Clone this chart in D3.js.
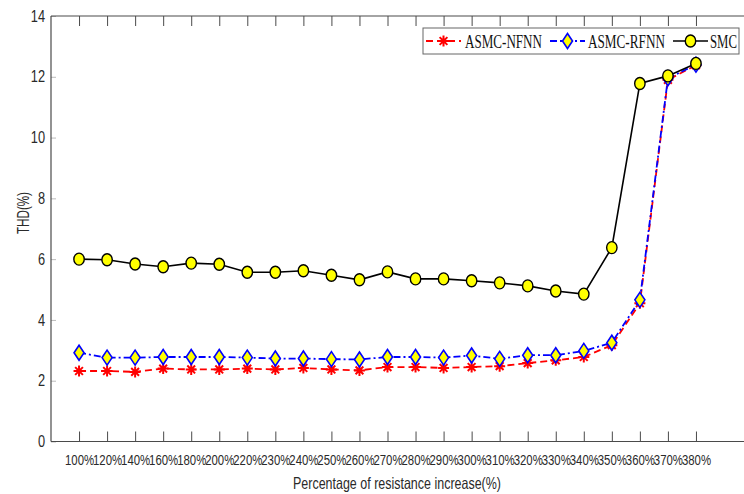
<!DOCTYPE html>
<html>
<head>
<meta charset="utf-8">
<script src="https://cdn.jsdelivr.net/npm/d3@7"></script>
<style>
  html, body { margin: 0; padding: 0; background: #fff; }
  svg { display: block; }
</style>
</head>
<body>
<svg id="chart" width="744" height="494"></svg>
<script>
// Resistance increase levels on the x axis
const categories = ['100%','120%','140%','160%','180%','200%','220%','230%','240%','250%','260%','270%',
  '280%','290%','300%','310%','320%','330%','340%','350%','360%','370%','380%'];

// THD (%) of each controller
const smcValues  = [6.00,5.98,5.84,5.75,5.87,5.83,5.57,5.57,5.62,5.47,5.32,5.58,
  5.35,5.35,5.29,5.22,5.12,4.95,4.85,6.38,11.78,12.03,12.44];
const rfnnValues = [2.92,2.76,2.76,2.78,2.78,2.78,2.76,2.73,2.73,2.71,2.70,2.78,
  2.78,2.76,2.83,2.72,2.84,2.84,2.98,3.25,4.66,11.95,12.40];
const nfnnValues = [2.32,2.32,2.29,2.40,2.37,2.37,2.40,2.37,2.42,2.37,2.34,2.45,
  2.45,2.42,2.45,2.48,2.58,2.67,2.78,3.17,4.55,11.90,12.38];

const yTicks = [0,2,4,6,8,10,12,14];

const svg = d3.select('#chart');
const plotLeft = 51, plotRight = 724, plotTop = 16, plotBottom = 441.5;

const x = d3.scalePoint().domain(categories).range([plotLeft, plotRight]).padding(1);
const y = d3.scaleLinear().domain([0, 14]).range([plotBottom, plotTop]);

const axisColor = '#4a4a4a';
const labelColor = '#2a2a2a';
const sans = 'Arial, "Liberation Sans", sans-serif';
const serif = '"Times New Roman", "Liberation Serif", serif';

// x axis (ticks inward, labels below)
const gx = svg.append('g').attr('transform', `translate(0,${plotBottom})`)
  .call(d3.axisBottom(x).tickSize(-10).tickPadding(12));
gx.select('.domain').remove();
gx.selectAll('.tick line').attr('stroke', axisColor).attr('stroke-width', 1);
gx.selectAll('.tick text')
  .attr('fill', labelColor).attr('font-family', sans).attr('font-size', 15.5)
  .attr('transform', 'scale(0.735,1)');

// top ticks
const gxt = svg.append('g').attr('transform', `translate(0,${plotTop})`)
  .call(d3.axisTop(x).tickSize(-10).tickFormat(''));
gxt.select('.domain').remove();
gxt.selectAll('.tick line').attr('stroke', axisColor).attr('stroke-width', 1);

// y axis
const gy = svg.append('g').attr('transform', `translate(${plotLeft},0)`)
  .call(d3.axisLeft(y).tickValues(yTicks).tickSize(-5).tickPadding(6));
gy.select('.domain').remove();
gy.selectAll('.tick line').attr('stroke', '#bbb').attr('stroke-width', 1);
gy.selectAll('.tick text')
  .attr('fill', labelColor).attr('font-family', sans).attr('font-size', 16)
  .attr('x', -6 / 0.8)
  .attr('transform', 'scale(0.8,1)');

// frame lines
svg.append('line').attr('x1', plotLeft).attr('x2', 744).attr('y1', plotBottom).attr('y2', plotBottom)
  .attr('stroke', axisColor).attr('stroke-width', 1.2);
svg.append('line').attr('x1', plotLeft).attr('x2', 744).attr('y1', plotTop).attr('y2', plotTop)
  .attr('stroke', axisColor).attr('stroke-width', 1.2);
svg.append('line').attr('x1', plotLeft).attr('x2', plotLeft).attr('y1', plotTop).attr('y2', plotBottom)
  .attr('stroke', axisColor).attr('stroke-width', 1.2);

// axis titles
svg.append('text').attr('x', 293).attr('y', 489)
  .attr('font-family', sans).attr('font-size', 16.5).attr('fill', labelColor)
  .attr('textLength', 208).attr('lengthAdjust', 'spacingAndGlyphs')
  .text('Percentage of resistance increase(%)');
svg.append('text')
  .attr('transform', 'translate(29,234) rotate(-90)')
  .attr('font-family', sans).attr('font-size', 17).attr('fill', labelColor)
  .attr('textLength', 42).attr('lengthAdjust', 'spacingAndGlyphs')
  .text('THD(%)');

// marker drawers
function star(g, cx, cy, s) {
  const p = d3.path();
  for (let k = 0; k < 4; k++) {
    const a = k * Math.PI / 4;
    const dx = Math.cos(a) * s, dy = Math.sin(a) * s;
    p.moveTo(cx - dx, cy - dy); p.lineTo(cx + dx, cy + dy);
  }
  g.append('path').attr('d', p.toString()).attr('stroke', '#ff0000').attr('stroke-width', 2).attr('fill', 'none');
}
function diamond(g, cx, cy) {
  const w = 5, h = 7.5;
  g.append('path')
    .attr('d', `M${cx},${cy - h}L${cx + w},${cy}L${cx},${cy + h}L${cx - w},${cy}Z`)
    .attr('fill', '#ffff00').attr('stroke', '#0000ff').attr('stroke-width', 1.6);
}
function circle(g, cx, cy) {
  g.append('ellipse').attr('cx', cx).attr('cy', cy).attr('rx', 5.2).attr('ry', 6)
    .attr('fill', '#ffff00').attr('stroke', '#000').attr('stroke-width', 1.4);
}

const line = d3.line().x((d, i) => x(categories[i])).y(d => y(d));

const series = [
  { name: 'ASMC-NFNN', values: nfnnValues, color: '#ff0000', dash: '7,4', width: 1.8, marker: (g, cx, cy) => star(g, cx, cy, 5.5) },
  { name: 'ASMC-RFNN', values: rfnnValues, color: '#0000ff', dash: '7,3,2,3', width: 1.8, marker: diamond },
  { name: 'SMC', values: smcValues, color: '#000000', dash: null, width: 1.6, marker: circle }
];

series.forEach(s => {
  const g = svg.append('g');
  g.append('path').datum(s.values).attr('d', line)
    .attr('fill', 'none').attr('stroke', s.color).attr('stroke-width', s.width)
    .attr('stroke-dasharray', s.dash);
  s.values.forEach((v, i) => s.marker(g, x(categories[i]), y(v)));
});

// legend
const lg = svg.append('g');
lg.append('rect').attr('x', 423).attr('y', 28).attr('width', 316).attr('height', 26)
  .attr('fill', '#fff').attr('stroke', '#666').attr('stroke-width', 1);
const legendItems = [
  { s: series[0], x0: 426, tx: 465, tw: 77 },
  { s: series[1], x0: 550, tx: 588, tw: 77 },
  { s: series[2], x0: 673, tx: 710, tw: 27 }
];
legendItems.forEach(it => {
  const ly = 41;
  lg.append('line').attr('x1', it.x0).attr('x2', it.x0 + 35).attr('y1', ly).attr('y2', ly)
    .attr('stroke', it.s.color).attr('stroke-width', it.s.width).attr('stroke-dasharray', it.s.dash);
  it.s.marker(lg, it.x0 + 17.5, ly);
  const t = lg.append('text').attr('x', 0).attr('y', 0)
    .attr('font-family', serif).attr('font-size', 19).attr('fill', '#111')
    .text(it.s.name);
  // squeeze the label horizontally to its slot
  const natural = t.node().getComputedTextLength();
  t.attr('transform', `translate(${it.tx},${ly + 6.5}) scale(${it.tw / natural},1)`);
});
</script>
</body>
</html>
